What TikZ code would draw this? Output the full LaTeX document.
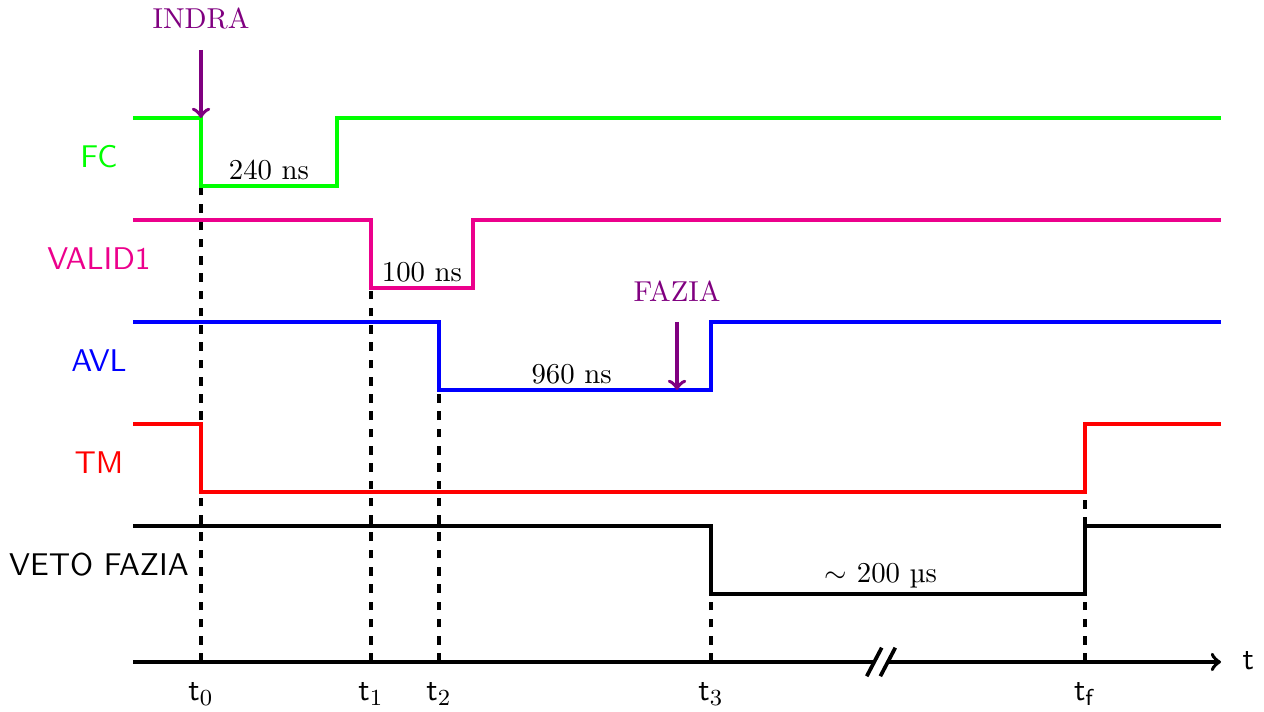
\documentclass[tikz,border=0pt]{standalone}
\usetikzlibrary{arrows.meta,positioning,calc}
\definecolor{validpink}{RGB}{236,0,140}

\begin{document}
\begin{tikzpicture}[
  x=0.83cm, y=0.83cm,
  sig/.style={line width=1.3pt},
  lbl/.style={font=\sffamily\fontsize{10.9}{13}\selectfont, anchor=center},
  dur/.style={above, inner sep=1.7pt},
  trig/.style={->, line width=1.3pt, violet},
  trigname/.style={violet, anchor=south, inner xsep=0pt, inner ysep=7pt},
  tick/.style={dashed, line width=1.3pt},
  tlbl/.style={font=\fontsize{10.9}{13}\selectfont},
  >=to
]
  \useasboundingbox (-1.956,-0.721) rectangle (16.632,9.735);

  % time marks on the axis
  \coordinate (origin) at (0,0);
  \coordinate (tend)   at (16,0);
  \coordinate (t0) at (1,0);
  \coordinate (t1) at (3.5,0);
  \coordinate (t2) at (4.5,0);
  \coordinate (t3) at (8.5,0);
  \coordinate (tf) at (14,0);

  % dashed guides
  \draw[tick] (t0) -- ++(0,7);
  \draw[tick] (t1) -- ++(0,5.5);
  \draw[tick] (t2) -- ++(0,4);
  \draw[tick] (t3) -- ++(0,1);
  \draw[tick] (tf) -- ++(0,1);
  \draw[tick] ($(tf)+(0,2)$) -- ++(0,0.5);

  % signals
  \draw[sig, green]     (0,8)   -- (1,8)   -- (1,7)   -- (3,7)   -- (3,8)   -- (16,8);
  \draw[sig, validpink] (0,6.5) -- (3.5,6.5) -- (3.5,5.5) -- (5,5.5) -- (5,6.5) -- (16,6.5);
  \draw[sig, blue]      (0,5)   -- (4.5,5) -- (4.5,4) -- (8.5,4) -- (8.5,5) -- (16,5);
  \draw[sig, red]       (0,3.5) -- (1,3.5) -- (1,2.5) -- (14,2.5) -- (14,3.5) -- (16,3.5);
  \draw[sig, black]     (0,2)   -- (8.5,2) -- (8.5,1) -- (14,1)  -- (14,2)  -- (16,2);

  \node[lbl, green]     (fc)    at (-0.5,7.43) {FC};
  \node[lbl, validpink] (valid) at (-0.5,5.93) {VALID1};
  \node[lbl, blue]      (avl)   at (-0.5,4.43) {AVL};
  \node[lbl, red]       (tm)    at (-0.5,2.93) {TM};
  \node[lbl, black]     (veto)  at (-0.5,1.43) {VETO FAZIA};

  % widths of the pulses
  \node[dur] (w240) at (2,7)      {240 ns};
  \node[dur] (w100) at (4.25,5.5) {100 ns};
  \node[dur] (w960) at (6.45,4)   {960 ns};
  \node[dur] (w200) at (11,1)     {$\sim$ 200 µs};

  % triggers
  \node[trigname] (indra) at (1,9) {INDRA};
  \coordinate (indrahit) at (1,8);
  \draw[trig] (indra) -- (indrahit);
  \node[trigname] (fazia) at (8,5) {FAZIA};
  \coordinate (faziahit) at (8,4);
  \draw[trig] (fazia) -- (faziahit);

  % time axis with a break
  \draw[line width=1.3pt] (origin) -- (10.9,0);
  \draw[line width=1.3pt, ->] (11.1,0) -- (tend);
  \draw[line width=1.3pt] (10.79,-0.21) -- (11.01,0.21);
  \draw[line width=1.3pt] (10.99,-0.21) -- (11.21,0.21);
  \node[tlbl] (taxis) at (16.4,0.02) {$\mathsf{t}$};

  \node[tlbl] (lt0) at (1,-0.47)   {$\mathsf{t}_0$};
  \node[tlbl] (lt1) at (3.5,-0.47) {$\mathsf{t}_1$};
  \node[tlbl] (lt2) at (4.5,-0.47) {$\mathsf{t}_2$};
  \node[tlbl] (lt3) at (8.5,-0.47) {$\mathsf{t}_3$};
  \node[tlbl] (ltf) at (14,-0.47)  {$\mathsf{t}_\mathsf{f}$};
\end{tikzpicture}
\end{document}
